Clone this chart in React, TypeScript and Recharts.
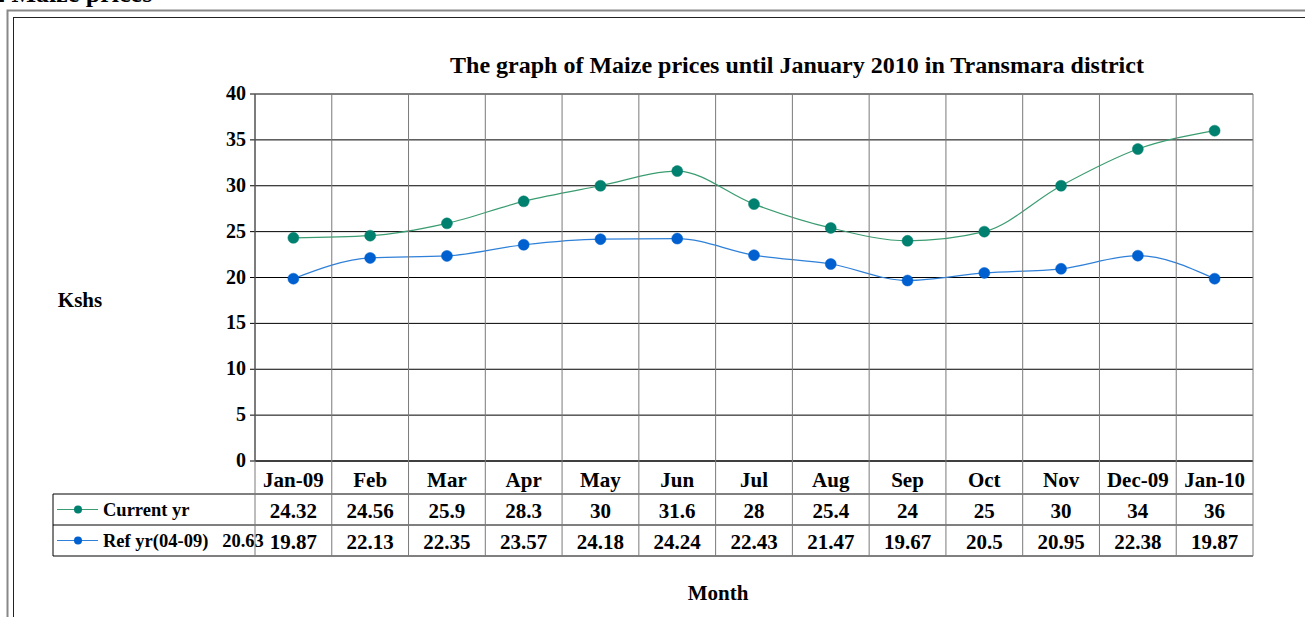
import React from 'react'
import {
  ComposedChart,
  Line,
  XAxis,
  YAxis,
  CartesianGrid,
} from 'recharts'

const months = ['Jan-09', 'Feb', 'Mar', 'Apr', 'May', 'Jun', 'Jul', 'Aug', 'Sep', 'Oct', 'Nov', 'Dec-09', 'Jan-10']
const currentYr = [24.32, 24.56, 25.9, 28.3, 30, 31.6, 28, 25.4, 24, 25, 30, 34, 36]
const refYr = [19.87, 22.13, 22.35, 23.57, 24.18, 24.24, 22.43, 21.47, 19.67, 20.5, 20.95, 22.38, 19.87]
const yTicks = [0, 5, 10, 15, 20, 25, 30, 35, 40]

const SERIES = [
  { key: 'current', name: 'Current yr', line: '#3a9c70', dot: '#00806e', values: currentYr },
  { key: 'ref', name: 'Ref yr(04-09)   20.63', line: '#2f80d8', dot: '#0060d0', values: refYr },
]

const data = months.map((m, i) => ({ month: m, current: currentYr[i], ref: refYr[i] }))

const W = 1305
const H = 617
const PLOT_LEFT = 255
const PLOT_RIGHT = 1253
const PLOT_TOP = 94
const PLOT_BOTTOM = 461
const COL_W = (PLOT_RIGHT - PLOT_LEFT) / months.length
const TABLE_LEFT = 53
const ROWS = [494, 525, 556]
const FONT = '"Liberation Serif", "Times New Roman", serif'
const GRID_V = '#7a7a7a'

function TableTick(props: any) {
  const { x, payload } = props
  const i = payload.index
  const left = x - COL_W / 2
  const right = x + COL_W / 2
  const txt = { fontFamily: FONT, fontWeight: 700, fontSize: 21, fill: '#000', textAnchor: 'middle' as const }
  return (
    <g>
      <line x1={left} x2={left} y1={PLOT_TOP} y2={ROWS[2]} stroke={GRID_V} />
      {i === months.length - 1 && (
        <line x1={right} x2={right} y1={PLOT_TOP} y2={ROWS[2]} stroke={GRID_V} />
      )}
      <text x={x} y={487} {...txt}>{payload.value}</text>
      <text x={x} y={518} {...txt}>{String(currentYr[i])}</text>
      <text x={x} y={549} {...txt}>{String(refYr[i])}</text>
    </g>
  )
}

function YTick(props: any) {
  const { x, y, payload } = props
  return (
    <text x={x - 2} y={y + 6} textAnchor="end" fontFamily={FONT} fontWeight={700} fontSize={20} fill="#000">
      {payload.value}
    </text>
  )
}

function SeriesDot(color: string) {
  return (p: any) => {
    const { cx, cy, index } = p
    if (cx == null || cy == null) return <g key={index} />
    return <circle key={index} cx={cx} cy={cy} r={5.5} fill={color} stroke={color} strokeWidth={0.5} />
  }
}

export default function App() {
  return (
    <div style={{ position: 'absolute', left: 0, top: 0, width: W, height: H, background: '#fff' }}>
      <ComposedChart
        width={W}
        height={H}
        data={data}
        margin={{ top: PLOT_TOP, right: W - PLOT_RIGHT, bottom: H - PLOT_BOTTOM - 30, left: PLOT_LEFT - 40 }}
      >
        {/* frames */}
        <rect x={7.5} y={10.5} width={W + 20} height={H + 20} fill="none" stroke="#888" strokeWidth={2} />
        <rect x={13.5} y={17.5} width={W + 20} height={H + 20} fill="none" stroke="#222" strokeWidth={1} />
        <text x={-8} y={2} fontFamily={FONT} fontWeight={700} fontSize={26} fill="#000">2 Maize prices</text>

        <text x={797} y={73} textAnchor="middle" fontFamily={FONT} fontWeight={700} fontSize={24} fill="#000">
          The graph of Maize prices until January 2010 in Transmara district
        </text>
        <text x={80} y={307} textAnchor="middle" fontFamily={FONT} fontWeight={700} fontSize={21} fill="#000">Kshs</text>
        <text x={718} y={600} textAnchor="middle" fontFamily={FONT} fontWeight={700} fontSize={21} fill="#000">Month</text>

        <CartesianGrid vertical={false} stroke="#000" />

        {/* data table frame */}
        {ROWS.map((ry) => (
          <line key={ry} x1={TABLE_LEFT} x2={PLOT_RIGHT} y1={ry} y2={ry} stroke="#000" />
        ))}
        <line x1={TABLE_LEFT} x2={TABLE_LEFT} y1={ROWS[0]} y2={ROWS[2]} stroke="#000" />
        {SERIES.map((s, r) => {
          const cy = (ROWS[r] + ROWS[r + 1]) / 2
          return (
            <g key={s.key}>
              <line x1={57} x2={98} y1={cy} y2={cy} stroke={s.line} strokeWidth={1} />
              <circle cx={78} cy={cy} r={4} fill={s.dot} />
              <text x={103} y={cy + 6} fontFamily={FONT} fontWeight={700} fontSize={18.5} fill="#000" style={{ whiteSpace: 'pre' }}>
                {s.name}
              </text>
            </g>
          )
        })}

        <XAxis
          dataKey="month"
          interval={0}
          height={30}
          padding={{ left: COL_W / 2, right: COL_W / 2 }}
          axisLine={{ stroke: '#000' }}
          tickLine={false}
          tick={<TableTick />}
        />
        <YAxis
          width={40}
          domain={[0, 40]}
          ticks={yTicks}
          interval={0}
          axisLine={{ stroke: '#000' }}
          tickLine={{ stroke: '#000' }}
          tickSize={5}
          tick={<YTick />}
        />
        {SERIES.map((s) => (
          <Line
            key={s.key}
            dataKey={s.key}
            name={s.name}
            type="monotone"
            stroke={s.line}
            strokeWidth={1.2}
            dot={SeriesDot(s.dot)}
            activeDot={false}
            isAnimationActive={false}
          />
        ))}
      </ComposedChart>
    </div>
  )
}
